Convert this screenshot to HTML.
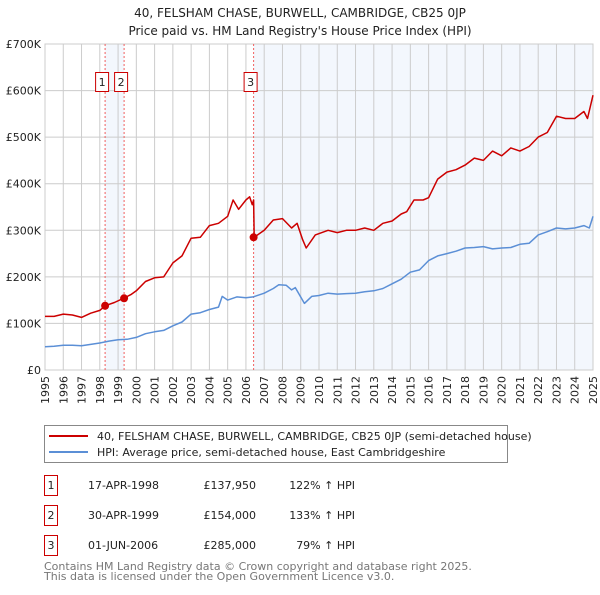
<!DOCTYPE html>
<html><head><meta charset="utf-8"><style>
body{margin:0;background:#fff;}
svg text{font-family:"DejaVu Sans","Liberation Sans",sans-serif;}
</style></head><body>
<svg width="600" height="590" viewBox="0 0 600 590" xmlns="http://www.w3.org/2000/svg">
<text x="300" y="17" text-anchor="middle" font-size="12" fill="#222">40, FELSHAM CHASE, BURWELL, CAMBRIDGE, CB25 0JP</text>
<text x="300" y="35" text-anchor="middle" font-size="12" fill="#222">Price paid vs. HM Land Registry's House Price Index (HPI)</text>
<g id="plot"></g>
<g>
<rect x="44.5" y="425.5" width="463" height="37" fill="#fff" stroke="#888"/>
<line x1="49" y1="436" x2="88" y2="436" stroke="#cc0000" stroke-width="2"/>
<text x="97" y="440" font-size="11" fill="#222">40, FELSHAM CHASE, BURWELL, CAMBRIDGE, CB25 0JP (semi-detached house)</text>
<line x1="49" y1="452" x2="88" y2="452" stroke="#5b8fd6" stroke-width="2"/>
<text x="97" y="456" font-size="11" fill="#222">HPI: Average price, semi-detached house, East Cambridgeshire</text>
</g>
<g font-size="11" fill="#222">
<g><rect x="44.5" y="475.5" width="13" height="20" fill="#fff" stroke="#cc0000"/><text x="51" y="489" text-anchor="middle">1</text><text x="88" y="489">17-APR-1998</text><text x="256" y="489" text-anchor="end">£137,950</text><text x="355" y="489" text-anchor="end">122% ↑ HPI</text></g>
<g><rect x="44.5" y="505.5" width="13" height="20" fill="#fff" stroke="#cc0000"/><text x="51" y="519" text-anchor="middle">2</text><text x="88" y="519">30-APR-1999</text><text x="256" y="519" text-anchor="end">£154,000</text><text x="355" y="519" text-anchor="end">133% ↑ HPI</text></g>
<g><rect x="44.5" y="535.5" width="13" height="20" fill="#fff" stroke="#cc0000"/><text x="51" y="549" text-anchor="middle">3</text><text x="88" y="549">01-JUN-2006</text><text x="256" y="549" text-anchor="end">£285,000</text><text x="355" y="549" text-anchor="end">79% ↑ HPI</text></g>
</g>
<text x="44" y="570" font-size="11" fill="#777">Contains HM Land Registry data © Crown copyright and database right 2025.</text>
<text x="44" y="580" font-size="11" fill="#777">This data is licensed under the Open Government Licence v3.0.</text>
</svg>
<script>
const yTicks=[0,100,200,300,400,500,600,700];
const yTickLabels=["£0","£100K","£200K","£300K","£400K","£500K","£600K","£700K"];
const xYears=[1995,1996,1997,1998,1999,2000,2001,2002,2003,2004,2005,2006,2007,2008,2009,2010,2011,2012,2013,2014,2015,2016,2017,2018,2019,2020,2021,2022,2023,2024,2025];
const hpiT=[1995,1995.5,1996,1996.5,1997,1997.5,1998,1998.5,1999,1999.5,2000,2000.5,2001,2001.5,2002,2002.5,2003,2003.5,2004,2004.5,2004.7,2005,2005.5,2006,2006.4,2007,2007.5,2007.8,2008.2,2008.5,2008.7,2009.2,2009.6,2010,2010.5,2011,2011.5,2012,2012.5,2013,2013.5,2014,2014.5,2015,2015.5,2016,2016.5,2017,2017.5,2018,2018.5,2019,2019.5,2020,2020.5,2021,2021.5,2022,2022.5,2023,2023.5,2024,2024.5,2024.8,2025];
const hpiV=[50,51,53,53,52,55,58,62,65,66,70,78,82,85,95,103,120,123,130,135,158,150,157,155,157,165,175,183,182,172,177,143,158,160,165,163,164,165,168,170,175,185,195,210,215,235,245,250,255,262,263,265,260,262,263,270,272,290,297,305,303,305,310,305,330];
const priceT=[1995,1995.5,1996,1996.5,1997,1997.5,1998,1998.3,1998.8,1999.3,1999.7,2000,2000.5,2001,2001.5,2002,2002.5,2003,2003.5,2004,2004.5,2005,2005.3,2005.6,2006,2006.2,2006.35,2006.42,2006.45,2007,2007.5,2008,2008.5,2008.8,2009.1,2009.3,2009.8,2010.5,2011,2011.5,2012,2012.5,2013,2013.5,2014,2014.5,2014.8,2015.2,2015.7,2016,2016.5,2017,2017.5,2018,2018.5,2019,2019.5,2020,2020.5,2021,2021.5,2022,2022.5,2023,2023.5,2024,2024.5,2024.7,2025];
const priceV=[115,115,120,118,113,122,128,138,145,154,162,170,190,198,200,230,245,283,285,310,315,330,365,345,365,372,355,365,285,300,322,325,305,315,280,262,290,300,295,300,300,305,300,315,320,335,340,365,365,370,410,425,430,440,455,450,470,460,477,470,480,500,510,545,540,540,555,540,590];
const sales=[{t:1998.29,v:137.95,n:"1"},{t:1999.33,v:154,n:"2"},{t:2006.42,v:285,n:"3"}];
const X0=45,X1=593,Y0=370,Y1=44;
const xs=t=>X0+(t-1995)/30*(X1-X0);
const ys=v=>Y0-v/700*(Y0-Y1);
const NS="http://www.w3.org/2000/svg";
const g=document.getElementById('plot');
function mk(tag,attrs,parent){const e=document.createElementNS(NS,tag);for(const k in attrs)e.setAttribute(k,attrs[k]);(parent||g).appendChild(e);return e;}
let s1=mk('rect',{x:xs(sales[0].t),y:Y1,width:xs(sales[1].t)-xs(sales[0].t),height:Y0-Y1,fill:'#eef3fc',opacity:0.7});


let s2=mk('rect',{x:xs(sales[2].t),y:Y1,width:X1-xs(sales[2].t),height:Y0-Y1,fill:'#eef3fc',opacity:0.7});


yTicks.forEach((v,i)=>{
 let l=mk('line',{x1:X0,x2:X1,y1:ys(v),y2:ys(v),stroke:'#ccc','stroke-width':1});
 
 
 let t=mk('text',{x:X0-4,y:ys(v)+4,'text-anchor':'end','font-size':11,fill:'#222'});
 t.textContent=yTickLabels[i];
 
 
});
xYears.forEach(yr=>{
 let l=mk('line',{x1:xs(yr),x2:xs(yr),y1:Y1,y2:Y0,stroke:'#ccc','stroke-width':1});
 
 
 let t=mk('text',{x:0,y:0,'text-anchor':'end','font-size':11,fill:'#222',transform:`translate(${xs(yr)+4},${Y0+6}) rotate(-90)`});
 t.textContent=yr;
 
 
});
let fr=mk('rect',{x:X0,y:Y1,width:X1-X0,height:Y0-Y1,fill:'none',stroke:'#ccc'});


sales.forEach(s=>{
 let l=mk('line',{x1:xs(s.t),x2:xs(s.t),y1:Y1,y2:Y0,stroke:'#f06060','stroke-width':1,'stroke-dasharray':'2,2'});
 
 
});
function line(T,V,color,name){
 let d=T.map((t,i)=>(i?'L':'M')+xs(t).toFixed(1)+','+ys(V[i]).toFixed(1)).join('');
 let p=mk('path',{d:d,fill:'none',stroke:color,'stroke-width':1.5,'stroke-linejoin':'round'});
 
 
}
line(hpiT,hpiV,'#5b8fd6','hpi-line');
line(priceT,priceV,'#cc0000','price-line');
sales.forEach(s=>{
 let c=mk('circle',{cx:xs(s.t),cy:ys(s.v),r:4,fill:'#cc0000'});
 
 
 let cx=xs(s.t)-3;
 let r=mk('rect',{x:cx-6.5,y:72.5,width:13,height:19,fill:'#fff',stroke:'#cc0000'});
 
 
 let t=mk('text',{x:cx,y:86,'text-anchor':'middle','font-size':11,fill:'#222'});
 t.textContent=s.n;
 
 
});
</script>
</body></html>
